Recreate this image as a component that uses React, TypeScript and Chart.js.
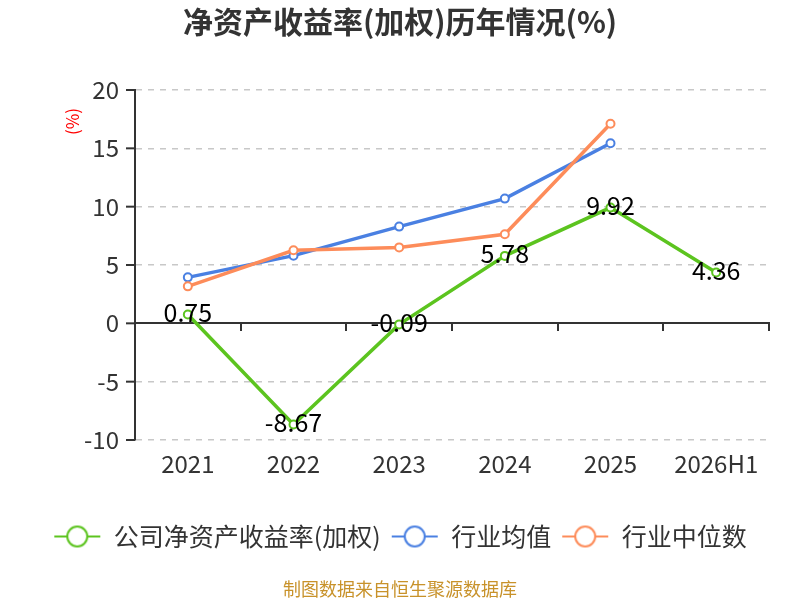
import React, { useEffect, useRef } from "react";
import { Chart, registerables } from "chart.js";

Chart.register(...registerables);

const categories = ["2021", "2022", "2023", "2024", "2025", "2026H1"];
const companyRoe = [0.75, -8.67, -0.09, 5.78, 9.92, 4.36];
const industryAvg = [3.94, 5.8, 8.29, 10.69, 15.43, null];
const industryMedian = [3.17, 6.26, 6.51, 7.63, 17.11, null];
const seriesNames = ["公司净资产收益率(加权)", "行业均值", "行业中位数"];
const seriesColors = ["#5cc41f", "#4a80e2", "#fd8c5a"];
const drawOrder = [0, 2, 1];
const yTicks = [20, 15, 10, 5, 0, -5, -10];

const FONT = "'Noto Sans CJK SC', 'Noto Sans', sans-serif";

function makeMarker(color: string): HTMLCanvasElement {
  const w = 48, h = 24;
  const c = document.createElement("canvas");
  c.width = w;
  c.height = h;
  const ctx = c.getContext("2d")!;
  ctx.strokeStyle = color;
  ctx.lineWidth = 2;
  ctx.beginPath();
  ctx.moveTo(1, h / 2);
  ctx.lineTo(w - 1, h / 2);
  ctx.stroke();
  ctx.fillStyle = "#fff";
  ctx.beginPath();
  ctx.arc(w / 2, h / 2, 10, 0, Math.PI * 2);
  ctx.fill();
  ctx.stroke();
  return c;
}

const extrasPlugin = {
  id: "extras",
  afterDatasetsDraw(chart: any) {
    const ctx = chart.ctx;
    const y = chart.scales.y;
    ctx.save();
    const idx = chart.data.datasets.findIndex((d: any) => d.label === seriesNames[0]);
    const meta = chart.getDatasetMeta(idx);
    ctx.font = `25px ${FONT}`;
    ctx.fillStyle = "#000";
    ctx.textAlign = "center";
    ctx.textBaseline = "middle";
    meta.data.forEach((pt: any, i: number) => {
      const v = companyRoe[i];
      if (v == null) return;
      ctx.fillText(v.toFixed(2), pt.x, pt.y - 2);
    });
    ctx.save();
    ctx.translate(73, y.getPixelForValue(17.3));
    ctx.rotate(-Math.PI / 2);
    ctx.font = `17px ${FONT}`;
    ctx.fillStyle = "#ff0000";
    ctx.textAlign = "center";
    ctx.textBaseline = "middle";
    ctx.fillText("(%)", 0, 0);
    ctx.restore();
    ctx.font = `18px ${FONT}`;
    ctx.fillStyle = "#c8922a";
    ctx.textAlign = "center";
    ctx.textBaseline = "middle";
    ctx.fillText("制图数据来自恒生聚源数据库", chart.width / 2, 589);
    ctx.restore();
  },
};

export default function App() {
  const ref = useRef<HTMLCanvasElement>(null);
  useEffect(() => {
    const markers = seriesColors.map(makeMarker);
    const mk = (i: number, data: (number | null)[]) => ({
      label: seriesNames[i],
      data,
      order: drawOrder[i],
      borderColor: seriesColors[i],
      backgroundColor: "#fff",
      borderWidth: 3.5,
      pointRadius: 4,
      pointBorderWidth: 2,
      pointBackgroundColor: "#fff",
      pointBorderColor: seriesColors[i],
      tension: 0,
      spanGaps: false,
      xAxisID: "x",
      yAxisID: "y",
    });
    const chart = new Chart(ref.current!, {
      type: "line",
      data: {
        labels: categories,
        datasets: [mk(0, companyRoe), mk(1, industryAvg), mk(2, industryMedian)] as any,
      },
      options: {
        animation: false,
        responsive: false,
        maintainAspectRatio: false,
        layout: { padding: { left: 0, right: 0, top: 0, bottom: 41 } },
        plugins: {
          title: {
            display: true,
            text: "净资产收益率(加权)历年情况(%)",
            color: "#333",
            font: { family: FONT, size: 30, weight: "bold" },
            padding: { top: 4, bottom: 50 },
          },
          legend: {
            position: "bottom",
            labels: {
              usePointStyle: true,
              pointStyleWidth: 48,
              boxHeight: 24,
              color: "#333",
              font: { family: FONT, size: 25 },
              padding: 10,
              generateLabels: () =>
                seriesNames.map((n, i) => ({
                  text: n,
                  pointStyle: markers[i],
                  fillStyle: "#fff",
                  strokeStyle: seriesColors[i],
                  lineWidth: 1,
                  hidden: false,
                  datasetIndex: i,
                  fontColor: "#333",
                })),
            },
          },
          tooltip: { enabled: false },
        },
        scales: {
          x: {
            type: "category",
            position: "bottom",
            offset: true,
            afterFit: (s: any) => {
              s.height = 74;
            },
            grid: { display: false, drawTicks: false },
            border: { display: false },
            ticks: { color: "#333", font: { family: FONT, size: 24 }, padding: 9 },
          },
          x2: {
            type: "category",
            labels: categories,
            position: { y: 0 } as any,
            offset: true,
            grid: {
              display: true,
              offset: true,
              drawOnChartArea: false,
              drawTicks: true,
              tickLength: 7,
              color: "#333",
              lineWidth: 2,
            },
            border: { display: true, color: "#333", width: 2 },
            ticks: { display: false },
          },
          y: {
            min: -10,
            max: 20,
            afterFit: (s: any) => {
              s.width = 135;
            },
            afterBuildTicks: (s: any) => {
              s.ticks = yTicks.map((v) => ({ value: v }));
            },
            grid: {
              color: (c: any) => (c.tick && c.tick.value === 0 ? "rgba(0,0,0,0)" : "#c8c8c8"),
              lineWidth: 1.5,
              drawTicks: false,
            },
            border: { display: true, color: "#333", width: 2, dash: [6, 6] },
            ticks: { color: "#333", font: { family: FONT, size: 24 }, padding: 16 },
          },
          yRight: {
            position: "right",
            min: -10,
            max: 20,
            afterFit: (s: any) => {
              s.width = 31;
            },
            grid: { display: false, drawTicks: false },
            border: { display: false },
            ticks: { display: false },
          },
        },
      },
      plugins: [
        extrasPlugin,
        {
          id: "ytickmarks",
          beforeDatasetsDraw(chart: any) {
            const ctx = chart.ctx;
            const y = chart.scales.y;
            const a = chart.chartArea;
            ctx.save();
            ctx.strokeStyle = "#333";
            ctx.lineWidth = 2;
            yTicks.forEach((v) => {
              const py = y.getPixelForValue(v);
              ctx.beginPath();
              ctx.moveTo(a.left - 9, py);
              ctx.lineTo(a.left, py);
              ctx.stroke();
            });
            ctx.restore();
          },
        },
      ],
    } as any);
    return () => chart.destroy();
  }, []);
  return (
    <div style={{ position: "fixed", left: 0, top: 0, width: 800, height: 600, background: "#fff" }}>
      <canvas ref={ref} width={800} height={600} style={{ width: 800, height: 600 }} />
    </div>
  );
}
